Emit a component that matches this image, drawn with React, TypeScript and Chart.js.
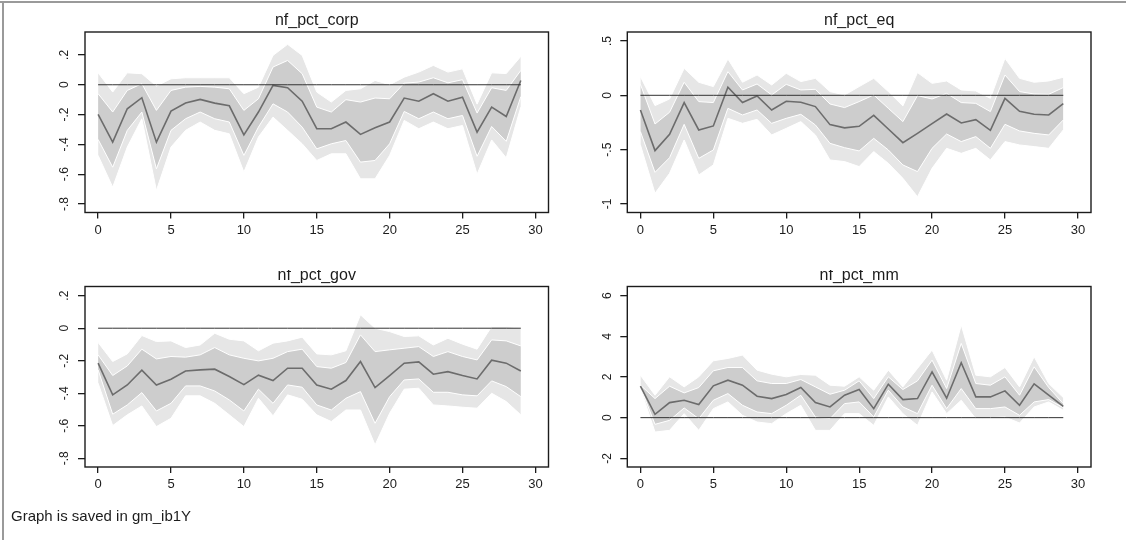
import React, { useEffect, useRef } from "react";
import { Chart, registerables } from "chart.js";

Chart.register(...registerables);

const STEPS = [0, 1, 2, 3, 4, 5, 6, 7, 8, 9, 10, 11, 12, 13, 14, 15, 16, 17, 18, 19, 20, 21, 22, 23, 24, 25, 26, 27, 28, 29];
const X_TICKS = [0, 5, 10, 15, 20, 25, 30];
const X_LABELS = ["0", "5", "10", "15", "20", "25", "30"];

// nf_pct_corp
const corpMean = [-0.199, -0.385, -0.161, -0.087, -0.385, -0.177, -0.123, -0.098, -0.123, -0.141, -0.336, -0.183, -0.004, -0.02, -0.11, -0.295, -0.295, -0.25, -0.333, -0.289, -0.25, -0.089, -0.11, -0.06, -0.11, -0.083, -0.318, -0.15, -0.213, 0.029];
const corpInUp = [-0.06, -0.183, -0.038, 0.007, -0.172, -0.038, -0.016, -0.011, -0.016, -0.027, -0.172, -0.094, 0.119, 0.163, 0.074, -0.15, -0.183, -0.1, -0.116, -0.089, -0.094, 0.011, 0.018, 0.047, 0.013, 0.034, -0.19, -0.02, -0.038, 0.096];
const corpInLo = [-0.367, -0.553, -0.306, -0.183, -0.564, -0.306, -0.228, -0.183, -0.228, -0.25, -0.474, -0.284, -0.128, -0.183, -0.284, -0.43, -0.396, -0.374, -0.519, -0.508, -0.396, -0.179, -0.228, -0.183, -0.228, -0.206, -0.48, -0.28, -0.38, -0.08];
const corpOutUp = [0.08, -0.049, 0.08, 0.074, -0.009, 0.04, 0.047, 0.047, 0.047, 0.047, -0.06, -0.016, 0.197, 0.271, 0.197, -0.049, -0.116, -0.038, -0.027, 0.029, 0.0, 0.051, 0.085, 0.13, 0.085, 0.107, -0.13, 0.08, 0.075, 0.19];
const corpOutLo = [-0.474, -0.687, -0.418, -0.228, -0.709, -0.418, -0.306, -0.25, -0.306, -0.329, -0.586, -0.351, -0.217, -0.306, -0.396, -0.508, -0.463, -0.463, -0.631, -0.631, -0.474, -0.239, -0.295, -0.25, -0.295, -0.273, -0.6, -0.37, -0.49, -0.15];
const corpYTicks = [-0.8, -0.6, -0.4, -0.2, 0, 0.2];
const corpYLabels = ["-.8", "-.6", "-.4", "-.2", "0", ".2"];

// nf_pct_eq
const eqMean = [-0.135, -0.509, -0.359, -0.067, -0.319, -0.282, 0.074, -0.067, -0.006, -0.135, -0.055, -0.064, -0.104, -0.27, -0.3, -0.285, -0.184, -0.31, -0.436, -0.35, -0.26, -0.172, -0.255, -0.224, -0.322, -0.028, -0.147, -0.175, -0.181, -0.077];
const eqInUp = [0.101, -0.264, -0.156, 0.12, -0.058, -0.067, 0.218, 0.049, 0.104, 0.003, 0.101, 0.049, 0.055, -0.08, -0.113, -0.058, 0.003, -0.12, -0.242, -0.003, -0.034, 0.018, -0.067, -0.074, -0.15, 0.187, 0.034, 0.012, 0.009, 0.071];
const eqInLo = [-0.334, -0.709, -0.574, -0.267, -0.58, -0.503, -0.12, -0.181, -0.135, -0.258, -0.212, -0.175, -0.273, -0.442, -0.482, -0.512, -0.396, -0.503, -0.641, -0.702, -0.488, -0.356, -0.426, -0.38, -0.488, -0.267, -0.328, -0.35, -0.365, -0.227];
const eqOutUp = [0.172, -0.095, -0.034, 0.248, 0.12, 0.08, 0.334, 0.12, 0.187, 0.095, 0.202, 0.126, 0.156, 0.034, 0.003, 0.08, 0.156, 0.034, -0.098, 0.209, 0.11, 0.132, 0.049, 0.04, -0.028, 0.34, 0.156, 0.12, 0.132, 0.166];
const eqOutLo = [-0.457, -0.902, -0.718, -0.411, -0.733, -0.641, -0.212, -0.258, -0.221, -0.365, -0.304, -0.242, -0.365, -0.595, -0.61, -0.656, -0.518, -0.626, -0.764, -0.933, -0.672, -0.488, -0.534, -0.488, -0.595, -0.426, -0.457, -0.472, -0.488, -0.319];
const eqYTicks = [-1, -0.5, 0, 0.5];
const eqYLabels = ["-1", "-.5", "0", ".5"];

// nf_pct_gov
const govMean = [-0.215, -0.41, -0.349, -0.258, -0.349, -0.314, -0.263, -0.256, -0.252, -0.297, -0.347, -0.289, -0.322, -0.246, -0.246, -0.349, -0.375, -0.322, -0.205, -0.365, -0.291, -0.215, -0.207, -0.283, -0.267, -0.291, -0.312, -0.197, -0.215, -0.263];
const govInUp = [-0.164, -0.291, -0.232, -0.129, -0.189, -0.174, -0.178, -0.164, -0.119, -0.164, -0.185, -0.201, -0.185, -0.144, -0.129, -0.236, -0.246, -0.211, -0.041, -0.144, -0.133, -0.123, -0.113, -0.174, -0.144, -0.174, -0.195, -0.072, -0.078, -0.109];
const govInLo = [-0.256, -0.529, -0.472, -0.396, -0.509, -0.462, -0.355, -0.355, -0.386, -0.441, -0.509, -0.375, -0.462, -0.349, -0.363, -0.472, -0.503, -0.431, -0.39, -0.585, -0.421, -0.318, -0.312, -0.394, -0.394, -0.41, -0.416, -0.324, -0.359, -0.421];
const govOutUp = [-0.088, -0.205, -0.158, -0.045, -0.082, -0.078, -0.119, -0.103, -0.031, -0.068, -0.078, -0.139, -0.092, -0.078, -0.055, -0.158, -0.164, -0.139, 0.082, 0.0, -0.021, -0.051, -0.047, -0.103, -0.062, -0.098, -0.129, 0.01, 0.01, 0.0];
const govOutLo = [-0.338, -0.599, -0.533, -0.478, -0.605, -0.554, -0.416, -0.416, -0.462, -0.533, -0.605, -0.431, -0.539, -0.41, -0.437, -0.533, -0.574, -0.503, -0.503, -0.718, -0.523, -0.375, -0.369, -0.472, -0.478, -0.486, -0.492, -0.4, -0.451, -0.533];
const govYTicks = [-0.8, -0.6, -0.4, -0.2, 0, 0.2];
const govYLabels = ["-.8", "-.6", "-.4", "-.2", "0", ".2"];

// nf_pct_mm
const mmMean = [1.547, 0.165, 0.741, 0.856, 0.642, 1.564, 1.844, 1.597, 1.053, 0.938, 1.136, 1.481, 0.741, 0.527, 1.103, 1.383, 0.444, 1.646, 0.889, 0.938, 2.255, 0.955, 2.7, 1.02, 1.02, 1.317, 0.609, 1.663, 1.103, 0.56];
const mmInUp = [1.6, 0.938, 1.547, 1.218, 1.481, 2.305, 2.469, 2.469, 1.811, 1.679, 1.679, 1.877, 1.514, 1.152, 1.35, 1.811, 0.938, 2.008, 1.383, 1.811, 2.831, 1.432, 3.654, 1.679, 1.597, 2.008, 1.103, 2.502, 1.481, 0.691];
const mmInLo = [1.514, -0.329, -0.132, 0.477, -0.049, 0.856, 1.185, 0.609, 0.28, 0.198, 0.609, 1.103, 0.033, -0.049, 0.691, 0.774, 0.033, 1.35, 0.527, 0.198, 1.597, 0.444, 1.432, 0.444, 0.444, 0.527, 0.115, 0.774, 0.889, 0.494];
const mmOutUp = [2.09, 1.103, 2.008, 1.514, 2.008, 2.798, 2.914, 3.078, 2.337, 2.14, 2.008, 2.123, 2.09, 1.597, 1.547, 2.008, 1.35, 2.337, 1.514, 2.42, 3.325, 1.844, 4.56, 2.09, 2.008, 2.469, 1.514, 2.996, 1.679, 0.988];
const mmOutLo = [1.432, -0.708, -0.625, 0.198, -0.625, 0.444, 0.774, 0.115, -0.214, -0.296, 0.198, 0.609, -0.625, -0.625, 0.198, 0.198, -0.379, 1.02, 0.198, -0.379, 1.267, 0.198, 0.856, -0.049, 0.0, 0.033, -0.263, 0.527, 0.774, 0.362];
const mmYTicks = [-2, 0, 2, 4, 6];
const mmYLabels = ["-2", "0", "2", "4", "6"];

const ZERO = [0, 0, 0, 0, 0, 0, 0, 0, 0, 0, 0, 0, 0, 0, 0, 0, 0, 0, 0, 0, 0, 0, 0, 0, 0, 0, 0, 0, 0, 0];

const FONT = "'Liberation Sans', Arial, Helvetica, sans-serif";
const CW = 563;
const CH = 270;
const Y_AXIS_W = 40;
const X_AXIS_H = 30;

type PanelCfg = {
  title: string;
  mean: number[];
  inUp: number[];
  inLo: number[];
  outUp: number[];
  outLo: number[];
  yTicks: number[];
  yLabels: string[];
  yMin: number;
  yMax: number;
  left: number;
  top: number;
  area: { l: number; r: number; t: number; b: number };
};

const PANELS: PanelCfg[] = [
  { title: "nf_pct_corp", mean: corpMean, inUp: corpInUp, inLo: corpInLo, outUp: corpOutUp, outLo: corpOutLo, yTicks: corpYTicks, yLabels: corpYLabels, yMin: -0.857, yMax: 0.354, left: 0, top: 0, area: { l: 85, r: 548.5, t: 32, b: 212.5 } },
  { title: "nf_pct_eq", mean: eqMean, inUp: eqInUp, inLo: eqInLo, outUp: eqOutUp, outLo: eqOutLo, yTicks: eqYTicks, yLabels: eqYLabels, yMin: -1.0785, yMax: 0.5825, left: 563, top: 0, area: { l: 64.3, r: 528, t: 32, b: 212.5 } },
  { title: "nf_pct_gov", mean: govMean, inUp: govInUp, inLo: govInLo, outUp: govOutUp, outLo: govOutLo, yTicks: govYTicks, yLabels: govYLabels, yMin: -0.8536, yMax: 0.2565, left: 0, top: 270, area: { l: 85, r: 548.5, t: 16.5, b: 197 } },
  { title: "nf_pct_mm", mean: mmMean, inUp: mmInUp, inLo: mmInLo, outUp: mmOutUp, outLo: mmOutLo, yTicks: mmYTicks, yLabels: mmYLabels, yMin: -2.428, yMax: 6.453, left: 563, top: 270, area: { l: 64.3, r: 528, t: 16.5, b: 197 } },
];

const pts = (vals: number[]) => STEPS.map((s, i) => ({ x: s, y: vals[i] }));

function Panel({ cfg }: { cfg: PanelCfg }) {
  const ref = useRef<HTMLCanvasElement>(null);
  useEffect(() => {
    const decor = {
      id: "stataDecor",
      afterDraw(chart: any) {
        const { ctx, chartArea } = chart;
        const { left, right, top, bottom } = chartArea;
        ctx.save();
        ctx.strokeStyle = "#1c1c1c";
        ctx.lineWidth = 1.4;
        ctx.strokeRect(left, top, right - left, bottom - top);
        ctx.fillStyle = "#1c1c1c";
        ctx.font = `16px ${FONT}`;
        ctx.textAlign = "center";
        ctx.textBaseline = "alphabetic";
        ctx.fillText(cfg.title, (left + right) / 2, top - 7);
        const ys = chart.scales.y;
        ctx.font = `12px ${FONT}`;
        ctx.textBaseline = "middle";
        cfg.yTicks.forEach((v, i) => {
          const y = ys.getPixelForValue(v);
          ctx.save();
          ctx.translate(left - 20, y);
          ctx.rotate(-Math.PI / 2);
          ctx.fillText(cfg.yLabels[i], 0, 0);
          ctx.restore();
        });
        ctx.restore();
      },
    };
    const band = { pointRadius: 0, borderColor: "#ffffff", borderWidth: 1, tension: 0 };
    const chart = new Chart(ref.current as HTMLCanvasElement, {
      type: "line",
      data: {
        datasets: [
          { data: pts(ZERO), borderColor: "#333333", borderWidth: 1, pointRadius: 0, fill: false },
          { data: pts(cfg.mean), borderColor: "#6c6c6c", borderWidth: 1.6, pointRadius: 0, fill: false },
          { ...band, data: pts(cfg.inUp), fill: false },
          { ...band, data: pts(cfg.inLo), fill: "-1", backgroundColor: "#cdcdcd" },
          { ...band, data: pts(cfg.outUp), fill: false },
          { ...band, data: pts(cfg.outLo), fill: "-1", backgroundColor: "#e6e6e6" },
        ] as any,
      },
      options: {
        animation: false,
        responsive: false,
        maintainAspectRatio: false,
        layout: {
          padding: {
            left: cfg.area.l - Y_AXIS_W,
            right: CW - cfg.area.r,
            top: cfg.area.t,
            bottom: CH - cfg.area.b - X_AXIS_H,
          },
        },
        plugins: { legend: { display: false }, tooltip: { enabled: false }, title: { display: false } },
        scales: {
          x: {
            type: "linear",
            min: -0.9,
            max: 30.9,
            afterBuildTicks: (s: any) => {
              s.ticks = X_TICKS.map((v) => ({ value: v }));
            },
            afterFit: (s: any) => {
              s.height = X_AXIS_H;
            },
            grid: { display: true, drawOnChartArea: false, tickLength: 6, color: "#1c1c1c", lineWidth: 1.3 },
            border: { display: false },
            ticks: {
              autoSkip: false,
              maxRotation: 0,
              padding: 4,
              color: "#1c1c1c",
              font: { family: FONT, size: 13 },
              callback: (_v: any, i: number) => X_LABELS[i],
            },
          },
          y: {
            type: "linear",
            min: cfg.yMin,
            max: cfg.yMax,
            afterBuildTicks: (s: any) => {
              s.ticks = cfg.yTicks.map((v) => ({ value: v }));
            },
            afterFit: (s: any) => {
              s.width = Y_AXIS_W;
            },
            grid: { display: true, drawOnChartArea: false, tickLength: 7, color: "#1c1c1c", lineWidth: 1.3 },
            border: { display: false },
            ticks: { display: false },
          },
        },
      } as any,
      plugins: [decor],
    });
    return () => chart.destroy();
  }, [cfg]);
  return (
    <canvas
      ref={ref}
      width={CW}
      height={CH}
      style={{ position: "absolute", left: cfg.left, top: cfg.top, width: CW, height: CH }}
    />
  );
}

export default function App() {
  return (
    <div style={{ position: "fixed", left: 0, top: 0, width: 1126, height: 540, background: "#ffffff", overflow: "hidden" }}>
      {PANELS.map((p) => (
        <Panel key={p.title} cfg={p} />
      ))}
      <div style={{ position: "absolute", left: 0, top: 1, width: 1126, height: 2, background: "#9a9a9a" }} />
      <div style={{ position: "absolute", left: 2, top: 1, width: 2, height: 539, background: "#9a9a9a" }} />
      <div
        style={{
          position: "absolute",
          left: 11,
          top: 507,
          fontFamily: FONT,
          fontSize: 15,
          lineHeight: "17px",
          color: "#1c1c1c",
          whiteSpace: "nowrap",
        }}
      >
        Graph is saved in gm_ib1Y
      </div>
    </div>
  );
}
